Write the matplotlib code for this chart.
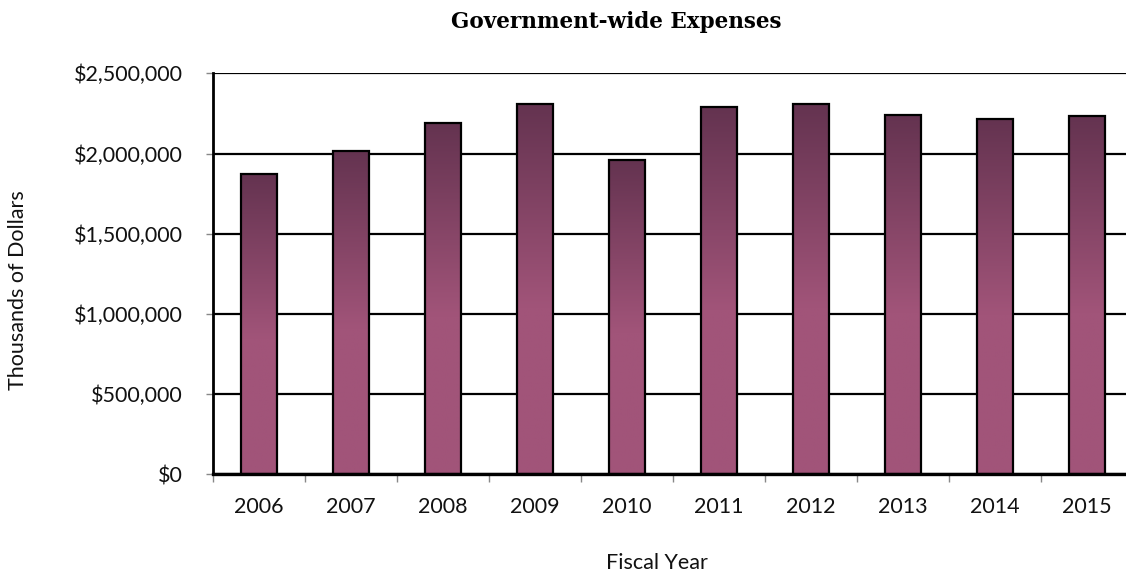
import numpy as np
import matplotlib.pyplot as plt
from matplotlib.colors import LinearSegmentedColormap
from matplotlib.ticker import FuncFormatter, FixedLocator

# Fiscal years and total expenses (thousands of dollars)
years = ["2006", "2007", "2008", "2009", "2010",
         "2011", "2012", "2013", "2014", "2015"]
expenses = [1873000, 2013000, 2190000, 2310000, 1961000,
            2287000, 2308000, 2241000, 2216000, 2235000]

# Dark plum at the top of each bar fading to a lighter mauve
bar_cmap = LinearSegmentedColormap.from_list(
    "plum", [(0.0, "#643350"), (0.55, "#a15479"), (1.0, "#a15479")])

fig = plt.figure(figsize=(11.26, 5.75), dpi=100)
ax = fig.add_axes([0.1892, 0.1748, 0.8171, 0.6977])

x = np.arange(len(years))
bars = ax.bar(x, expenses, 0.4, facecolor="none", edgecolor="black",
              linewidth=1.6, zorder=4)

# Fill each bar with a vertical gradient
grad = np.linspace(0, 1, 256).reshape(-1, 1)
for b in bars:
    x0, w, h = b.get_x(), b.get_width(), b.get_height()
    ax.imshow(grad, cmap=bar_cmap, aspect="auto", origin="upper",
              extent=[x0, x0 + w, 0, h], zorder=3, interpolation="bilinear")

ax.set_xlim(-0.5, len(years) - 0.5)
ax.set_ylim(0, 2500000)
ax.set_yticks(np.arange(0, 2500001, 500000))
ax.yaxis.set_major_formatter(FuncFormatter(lambda v, p: "${:,.0f}".format(v)))
ax.grid(axis="y", color="black", linewidth=1.6, zorder=1)

ax.set_xticks(x)
ax.set_xticklabels(years)
ax.xaxis.set_minor_locator(FixedLocator(np.arange(-0.5, len(years), 1.0)))
ax.tick_params(axis="x", which="major", length=0, pad=16)
ax.tick_params(axis="x", which="minor", length=6, color="#888888", width=1)
ax.tick_params(axis="y", length=5, color="#888888", width=1, pad=17)

for lab in ax.get_xticklabels() + ax.get_yticklabels():
    lab.set_fontfamily("Lato")
    lab.set_fontsize(15.5)
    lab.set_color("#111111")

for side in ("top", "right"):
    ax.spines[side].set_visible(False)
ax.spines["left"].set_linewidth(2)
ax.spines["bottom"].set_linewidth(2.4)
ax.spines["left"].set_zorder(5)
ax.spines["bottom"].set_zorder(5)

fig.text(0.547, 0.962, "Government-wide Expenses", ha="center", va="center",
         fontsize=15.5, fontweight="bold", family="DejaVu Serif")
fig.text(0.016, 0.496, "Thousands of Dollars", ha="center", va="center",
         rotation=90, fontsize=15.5, family="Lato", color="#111111")
fig.text(0.583, 0.021, "Fiscal Year", ha="center", va="center",
         fontsize=15.5, family="Lato", color="#111111")

fig.savefig("out.png", dpi=100)
